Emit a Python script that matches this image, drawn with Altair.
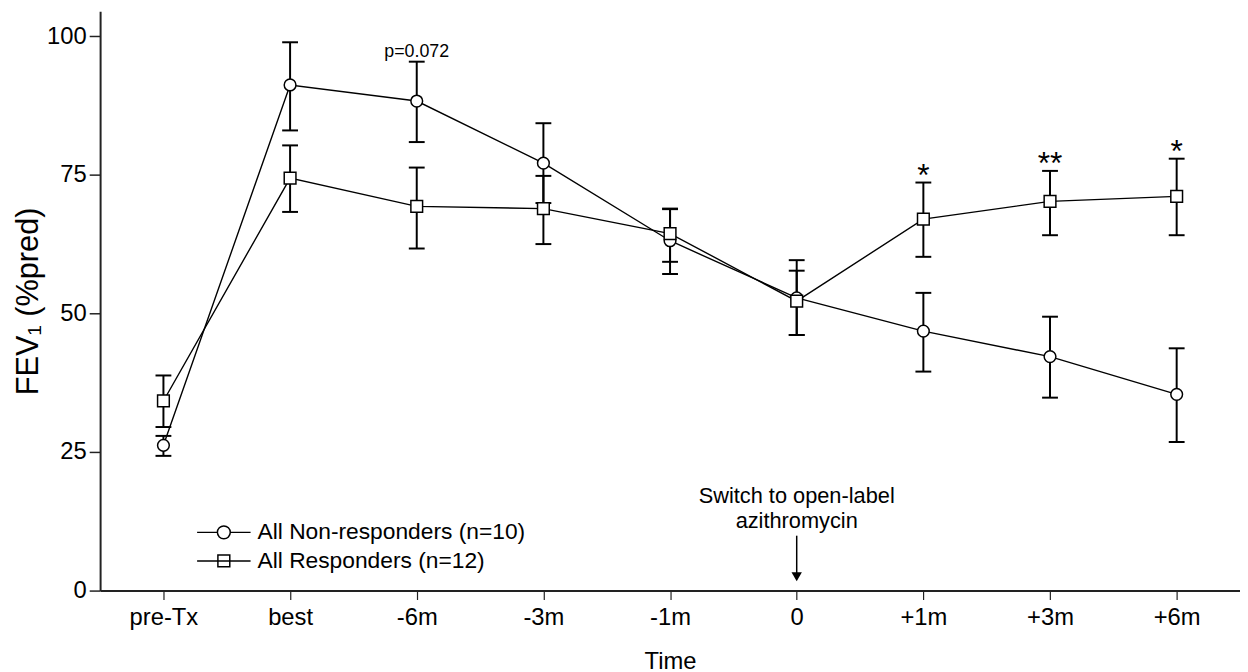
import altair as alt
import pandas as pd

# ---------------- data ----------------
times = ["pre-Tx", "best", "-6m", "-3m", "-1m", "0", "+1m", "+3m", "+6m"]

series_names = ["All Non-responders (n=10)", "All Responders (n=12)"]

non_mean = [26.2, 91.2, 88.3, 77.1, 63.1, 52.8, 46.8, 42.2, 35.4]
non_low = [24.3, 83.0, 80.9, 69.9, 57.1, 46.1, 39.5, 34.8, 26.8]
non_high = [27.9, 98.9, 95.4, 84.3, 68.9, 59.6, 53.7, 49.4, 43.7]

resp_mean = [34.2, 74.4, 69.3, 68.9, 64.4, 52.2, 67.0, 70.2, 71.1]
resp_low = [29.5, 68.3, 61.7, 62.5, 59.3, 46.1, 60.2, 64.1, 64.1]
resp_high = [38.8, 80.3, 76.3, 74.8, 68.8, 57.7, 73.6, 75.7, 77.9]

y_ticks = [0, 25, 50, 75, 100]
y_max = 104.5

star_times = ["+1m", "+3m", "+6m"]
star_text = ["*", "**", "*"]

pval_time = "-6m"
pval_text = "p=0.072"

switch_time = "0"
switch_text = "Switch to open-label\nazithromycin"
arrow_top = 9.9
arrow_head = 2.5

# legend box: anchored at the first category, rows at these y values
legend_anchor = "pre-Tx"
legend_rows_y = [10.5, 5.35]

# ---------------- tables ----------------
rows = []
for name, m, lo, hi in [
    (series_names[0], non_mean, non_low, non_high),
    (series_names[1], resp_mean, resp_low, resp_high),
]:
    for t, a, b, c in zip(times, m, lo, hi):
        rows.append({"time": t, "series": name, "mean": a, "lo": b, "hi": c})
df = pd.DataFrame(rows)

stars_df = pd.DataFrame({
    "time": star_times,
    "y": [resp_high[times.index(t)] for t in star_times],
    "label": star_text,
})
pval_df = pd.DataFrame({"time": [pval_time], "y": [non_high[times.index(pval_time)]], "label": [pval_text]})
switch_df = pd.DataFrame({"time": [switch_time], "y": [arrow_top], "y2": [arrow_head], "label": [switch_text]})

# legend glyphs (line segment with the series marker), drawn to the right of the anchor
circ_glyph = ("M3.4,0H5.45M6.75,0H8.8M6.75,0A0.65,0.65,0,1,1,5.45,0"
              "A0.65,0.65,0,1,1,6.75,0Z")
sq_glyph = "M3.4,0H8.8M5.5,-0.6H6.7V0.6H5.5Z"
legend_df = pd.DataFrame({
    "time": [legend_anchor, legend_anchor],
    "y": legend_rows_y,
    "label": series_names,
    "glyph": [circ_glyph, sq_glyph],
})

FONT = "Liberation Sans, Arial, Helvetica, sans-serif"

xscale = alt.Scale(type="point", padding=0.5, domain=times)
yscale = alt.Scale(domain=[0, y_max], nice=False, zero=True)

x_axis = alt.Axis(
    title="Time", labelAngle=0, labelAlign="center", labelBaseline="top",
    labelFont=FONT, labelFontSize=24, labelColor="black",
    tickSize=9, tickWidth=1.2, tickColor="#222", domainColor="#222", domainWidth=2,
    labelPadding=6, titleFont=FONT, titleFontSize=24, titleFontWeight="normal",
    titleColor="black", titlePadding=21, grid=False,
)
y_axis = alt.Axis(
    title="FEV\u2081 (%pred)", values=y_ticks, labelFont=FONT, labelFontSize=24,
    labelColor="black", tickSize=11, tickWidth=1.5, tickColor="#222",
    domainColor="#222", domainWidth=2, labelPadding=3, titleFont=FONT,
    titleFontSize=31, titleFontWeight="normal", titleColor="black", titlePadding=2,
    grid=False,
)

X = alt.X("time:N", scale=xscale, sort=times, axis=x_axis)


def Y(field):
    return alt.Y(field, scale=yscale, axis=y_axis)


base = alt.Chart(df)

err = base.mark_rule(color="black", strokeWidth=2).encode(
    x=X, y=Y("lo:Q"), y2="hi:Q"
)
cap_lo = base.mark_tick(color="black", thickness=2, size=16, opacity=1).encode(
    x=X, y=Y("lo:Q")
)
cap_hi = base.mark_tick(color="black", thickness=2, size=16, opacity=1).encode(
    x=X, y=Y("hi:Q")
)
lines = base.mark_line(color="black", strokeWidth=1.4).encode(
    x=X, y=Y("mean:Q"), detail="series:N"
)
pts = base.mark_point(color="black", fill="white", strokeWidth=1.5, size=140, opacity=1).encode(
    x=X, y=Y("mean:Q"),
    shape=alt.Shape("series:N", scale=alt.Scale(domain=series_names, range=["circle", "square"]), legend=None),
)

legend_glyphs = alt.Chart(legend_df).mark_point(
    color="black", fill="white", strokeWidth=1.5, size=400, opacity=1
).encode(x=X, y=Y("y:Q"), shape=alt.Shape("glyph:N", scale=None, legend=None))
legend_labels = alt.Chart(legend_df).mark_text(
    font=FONT, fontSize=23, align="left", baseline="middle", dx=95, color="black"
).encode(x=X, y=Y("y:Q"), text="label:N")

stars = alt.Chart(stars_df).mark_text(font=FONT, fontSize=32, baseline="alphabetic", dy=3, color="black").encode(
    x=X, y=Y("y:Q"), text="label:N"
)
pval = alt.Chart(pval_df).mark_text(font=FONT, fontSize=18, baseline="alphabetic", dy=-5, color="black").encode(
    x=X, y=Y("y:Q"), text="label:N"
)
switch = alt.Chart(switch_df).mark_text(
    font=FONT, fontSize=22, baseline="alphabetic", dy=-33, lineBreak="\n", lineHeight=25, color="black"
).encode(x=X, y=Y("y:Q"), text="label:N")
arrow = alt.Chart(switch_df).mark_rule(color="black", strokeWidth=1.5).encode(
    x=X, y=Y("y:Q"), y2="y2:Q"
)
head = alt.Chart(switch_df).mark_point(shape="triangle-down", filled=True, color="black", size=110, opacity=1).encode(
    x=X, y=Y("y2:Q")
)

chart = (
    alt.layer(err, cap_lo, cap_hi, lines, pts, legend_glyphs, legend_labels,
              stars, pval, switch, arrow, head)
    .resolve_scale(shape="independent")
    .properties(width=1151, height=585, padding={"left": 4, "top": 0, "right": 0, "bottom": 0})
    .configure(background="white", view=alt.ViewConfig(stroke=None))
)

chart.save("out.html", embed_options={"renderer": "svg", "actions": False})
